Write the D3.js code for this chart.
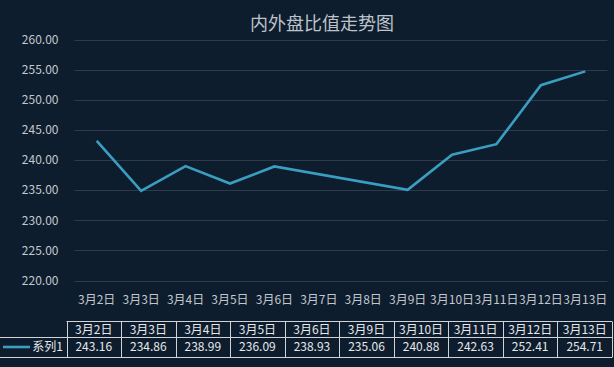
<!DOCTYPE html>
<html><head><meta charset="utf-8">
<script src="https://cdn.jsdelivr.net/npm/d3@7"></script>
<style>body{margin:0;background:#0e1d2d;}svg{display:block;}</style>
</head><body>
<svg id="c" width="614" height="367"></svg>
<script>
const title = "内外盘比值走势图";
const axisCategories = ["3月2日","3月3日","3月4日","3月5日","3月6日","3月7日","3月8日","3月9日","3月10日","3月11日","3月12日","3月13日"];
const dataDates = ["3月2日","3月3日","3月4日","3月5日","3月6日","3月9日","3月10日","3月11日","3月12日","3月13日"];
const seriesValues = [243.16,234.86,238.99,236.09,238.93,235.06,240.88,242.63,252.41,254.71];
const seriesName = "系列1";
const yTicks = [220,225,230,235,240,245,250,255,260];

const svg = d3.select("#c");
const W = 614, H = 367;
const font = "'Noto Sans CJK SC', 'Noto Sans', sans-serif";
const textCol = "#c3c8ce";
const lineCol = "#3a9ec0";
svg.append("rect").attr("width",W).attr("height",H).attr("fill","#0e1d2d");

const x = d3.scaleBand().domain(axisCategories).range([74.5,607.5]);
const y = d3.scaleLinear().domain([220,260]).range([280.5,39.5]);

svg.append("text").attr("x",322).attr("y",30).attr("text-anchor","middle")
  .attr("font-family",font).attr("font-size",18).attr("fill","#bcc3ca").text(title);

// gridlines
svg.append("g").selectAll("line").data(yTicks).join("line")
  .attr("x1",74.5).attr("x2",607.5).attr("y1",d=>Math.round(y(d))+0.5).attr("y2",d=>Math.round(y(d))+0.5)
  .attr("stroke","#2c3a49").attr("stroke-width",1);

// y axis
const yAxis = d3.axisLeft(y).tickValues(yTicks).tickFormat(d3.format(".2f")).tickSize(0).tickPadding(16);
const gy = svg.append("g").attr("transform","translate(74.5,0)").call(yAxis);
gy.select(".domain").remove();
gy.selectAll("text").attr("font-family",font).attr("font-size",12).attr("fill",textCol);

// x axis
const xAxis = d3.axisBottom(x).tickSize(0).tickPadding(10);
const gx = svg.append("g").attr("transform","translate(0,285)").call(xAxis);
gx.select(".domain").remove();
gx.selectAll("text").attr("font-family",font).attr("font-size",12).attr("fill",textCol);

// line
const pts = dataDates.map((d,i)=>({d, v: seriesValues[i]}));
const line = d3.line().x(p=>x(p.d)+x.bandwidth()/2).y(p=>y(p.v));
svg.append("path").datum(pts).attr("d",line).attr("fill","none")
  .attr("stroke",lineCol).attr("stroke-width",2.6).attr("stroke-linejoin","miter");

// data table
const tx = d3.scaleBand().domain(dataDates).range([66.5,612]);
const tTop = 321.5, tMid = 337.5, tBot = 357.5;
const tcol = "#d0d4d8";
const tg = svg.append("g");
tg.append("line").attr("x1",66.5).attr("x2",612).attr("y1",tTop).attr("y2",tTop).attr("stroke",tcol);
tg.append("line").attr("x1",0).attr("x2",612).attr("y1",tMid).attr("y2",tMid).attr("stroke",tcol);
tg.append("line").attr("x1",0).attr("x2",612).attr("y1",tBot).attr("y2",tBot).attr("stroke",tcol);
const vx = dataDates.map(d=>tx(d)).concat([612]);
tg.selectAll("line.v").data(vx).join("line").attr("class","v")
  .attr("x1",d=>Math.round(d)+0.5).attr("x2",d=>Math.round(d)+0.5).attr("y1",tTop).attr("y2",tBot).attr("stroke",tcol);
tg.selectAll("text.h").data(dataDates).join("text").attr("class","h")
  .attr("x",d=>tx(d)+tx.bandwidth()/2).attr("y",334).attr("text-anchor","middle")
  .attr("font-family",font).attr("font-size",12).attr("fill","#e6e8ea").text(d=>d);
tg.selectAll("text.val").data(pts).join("text").attr("class","val")
  .attr("x",p=>tx(p.d)+tx.bandwidth()/2).attr("y",351).attr("text-anchor","middle")
  .attr("font-family",font).attr("font-size",12).attr("fill","#e6e8ea").text(p=>p.v.toFixed(2));
// legend key
tg.append("line").attr("x1",3).attr("x2",30).attr("y1",347).attr("y2",347).attr("stroke",lineCol).attr("stroke-width",2.6);
tg.append("text").attr("x",63).attr("y",351).attr("text-anchor","end")
  .attr("font-family",font).attr("font-size",12).attr("fill","#e6e8ea").text(seriesName);
</script>
</body></html>
